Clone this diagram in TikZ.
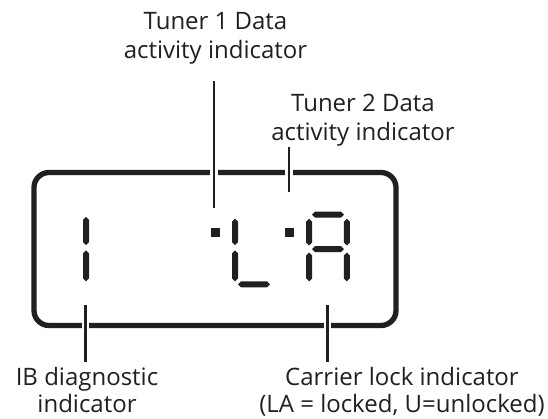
\documentclass[tikz,border=0pt]{standalone}
\usepackage{fontspec}
\newfontfamily\lblfont{Open Sans}
\definecolor{ink}{HTML}{231F20}
\newcommand\vsegm[3]{\fill[ink] (#1,#2) -- (#1+3,#2+3) -- (#1+3,#3-3) -- (#1,#3) -- (#1-3,#3-3) -- (#1-3,#2+3) -- cycle;}
\newcommand\hsegm[3]{\fill[ink] (#2,#1) -- (#2+3,#1-3) -- (#3-3,#1-3) -- (#3,#1) -- (#3-3,#1+3) -- (#2+3,#1+3) -- cycle;}
\tikzset{
  lbl/.style={inner sep=0pt, anchor=north, align=center, text=ink,
    font=\lblfont\fontsize{24}{28.5}\selectfont},
  lblb/.style={lbl, font=\lblfont\fontsize{24}{26.5}\selectfont},
  frame/.style={draw=ink, line width=5.3pt, rounded corners=15pt},
  leader/.style={draw=ink, line width=2.7pt,
    preaction={draw=white, line width=7.5pt}},
  dotsq/.style={fill=ink, minimum size=9.3pt, inner sep=0pt, draw=none}
}
\begin{document}
\begin{tikzpicture}[x=1pt,y=-1pt]
\useasboundingbox[fill=white] (0,0) rectangle (548,418);
% display frame
\draw[frame] (34,172.5) rectangle (396,325.5);
% labels
\node[lbl] (t1) at (215.5,12.4) {Tuner 1 Data\\activity indicator};
\node[lbl] (t2) at (363,94.3) {Tuner 2 Data\\activity indicator};
\node[lblb] (ib) at (87,367.3) {IB diagnostic\\indicator};
\node[lblb] (cl) at (402,367.3) {Carrier lock indicator\\(LA = locked, U=unlocked)};
% digits
\vsegm{86}{216.9}{245}
\vsegm{86}{250.4}{281.3}
\node[dotsq] (d1) at (215.3,232.8) {};
\vsegm{235}{218.7}{245}
\vsegm{235}{250.4}{281.3}
\hsegm{284.3}{238}{270}
\node[dotsq] (d2) at (289.8,232.8) {};
\hsegm{214.6}{312}{344}
\hsegm{249}{312}{344}
\vsegm{309.2}{218.7}{245.5}
\vsegm{309.2}{252.5}{281.3}
\vsegm{346.8}{218.7}{245.5}
\vsegm{346.8}{252.5}{281.3}
% leader end points
\coordinate (l1a) at (214,81);
\coordinate (l1b) at (214,208);
\coordinate (l2a) at (289,147);
\coordinate (l2b) at (289,192.3);
\coordinate (l3a) at (85.6,305);
\coordinate (l3b) at (85.6,361.6);
\coordinate (l4a) at (327.5,305);
\coordinate (l4b) at (327.5,361.6);
\path[leader] (l1a) -- (l1b);
\path[leader] (l2a) -- (l2b);
\path[leader] (l3a) -- (l3b);
\path[leader] (l4a) -- (l4b);
\end{tikzpicture}
\end{document}
